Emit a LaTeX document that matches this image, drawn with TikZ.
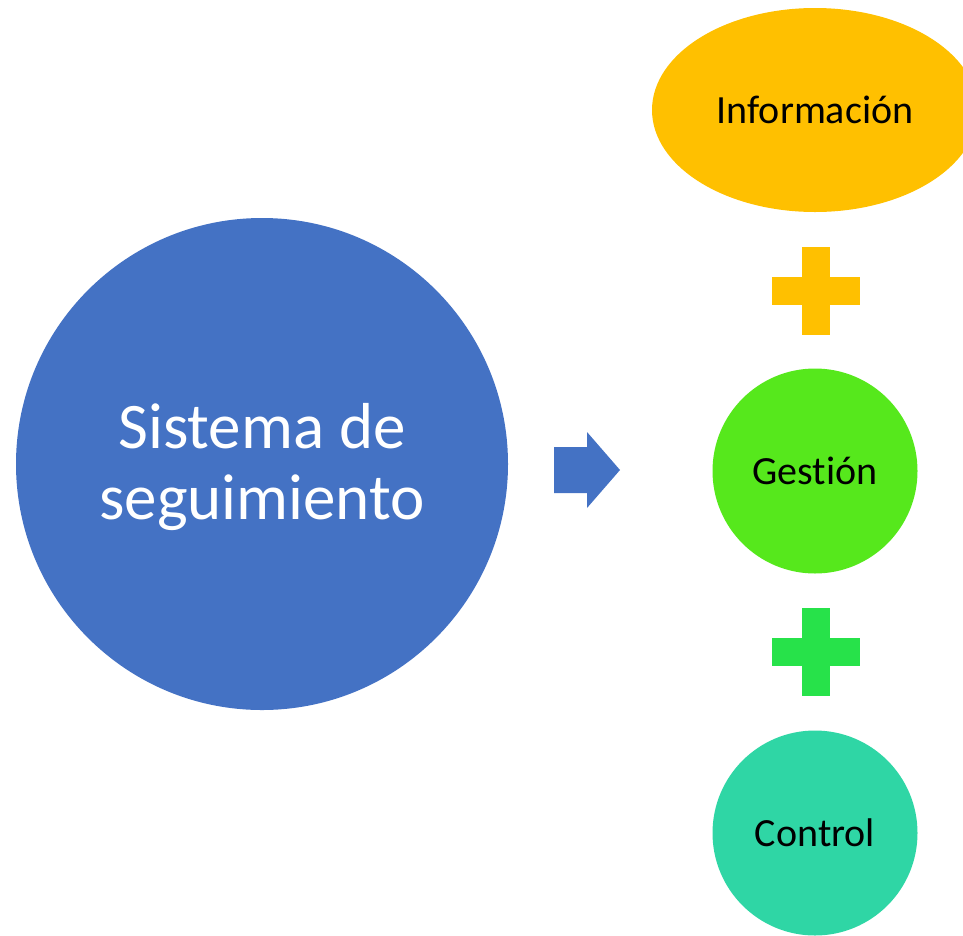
\documentclass[tikz,border=0pt]{standalone}
\usepackage{fontspec}
\setmainfont{Carlito}[Ligatures=CommonOff]
\usetikzlibrary{shapes.geometric}
\definecolor{cblue}{HTML}{4472C4}
\definecolor{cyellow}{HTML}{FFC000}
\definecolor{cgreen}{HTML}{56E81C}
\definecolor{cplusgreen}{HTML}{27E24A}
\definecolor{cteal}{HTML}{2FD6A5}
\begin{document}
\begin{tikzpicture}[x=1pt,y=-1pt,
  bigtext/.style={font=\fontsize{65}{71}\selectfont, text=white, align=center},
  smalltext/.style={font=\fontsize{40}{46}\selectfont, text=black},
  smallcircle/.style={circle, minimum size=205pt, inner sep=0pt, smalltext},
]
\useasboundingbox (0,0) rectangle (963,935);
\node[circle, fill=cblue, minimum size=492pt, inner sep=0pt] (sys) at (262,464) {};
\node[bigtext] (systext) at (262,467) {Sistema de\\seguimiento};
\fill[cblue] (554,447) -- (587,447) -- (587,432) -- (620,470) -- (587,508) -- (587,493) -- (554,493) -- cycle;
\node[ellipse, fill=cyellow, minimum width=326pt, minimum height=204pt, inner sep=0pt, smalltext] (info) at (815,110) {Información};
\fill[cyellow] (802,247) rectangle (830,335);
\fill[cyellow] (772,277) rectangle (860,305);
\node[smallcircle, fill=cgreen] (gest) at (815,471) {Gestión};
\fill[cplusgreen] (802,608) rectangle (830,696);
\fill[cplusgreen] (772,638) rectangle (860,666);
\node[smallcircle, fill=cteal] (ctrl) at (815,833) {Control};
\end{tikzpicture}
\end{document}
